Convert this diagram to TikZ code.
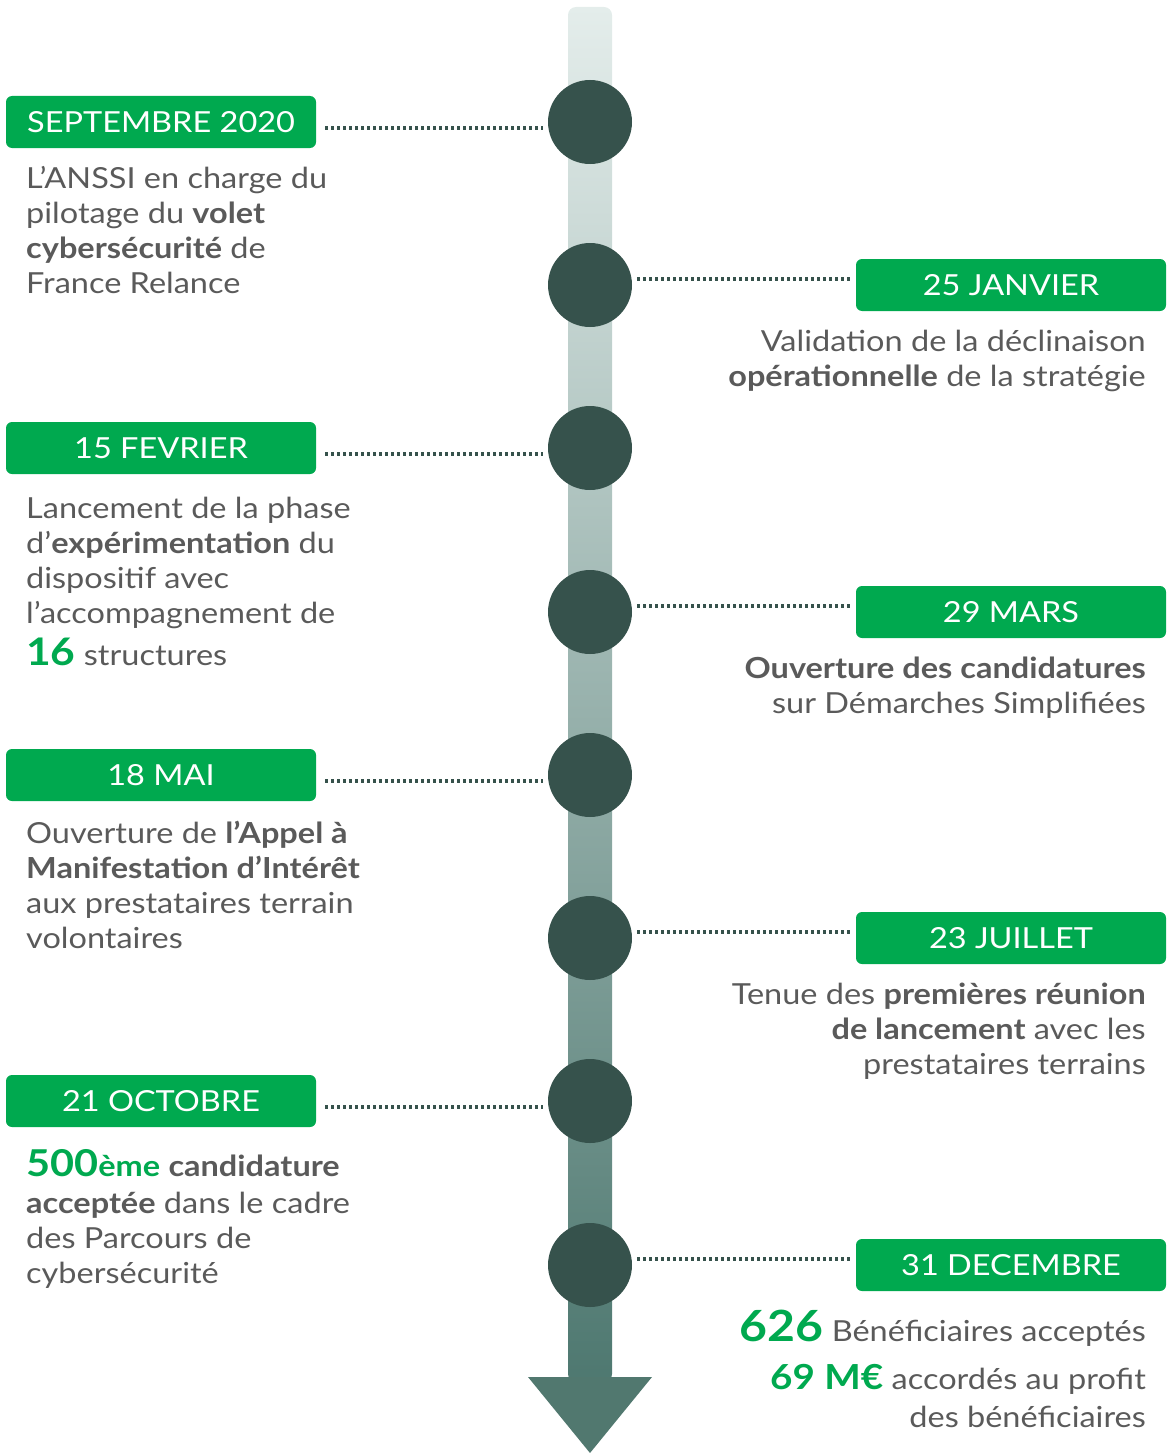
\documentclass[tikz,border=0pt]{standalone}
\usepackage{fontspec}
\setmainfont[FakeStretch=1.12]{Lato}
\definecolor{mgreen}{RGB}{0,169,79}
\definecolor{dotc}{RGB}{54,82,76}
\definecolor{txtc}{RGB}{90,90,90}
\definecolor{bartop}{RGB}{228,237,235}
\definecolor{barbot}{RGB}{78,120,112}
\definecolor{arrowc}{RGB}{81,120,111}
\begin{document}
\begin{tikzpicture}[x=1pt,y=-1pt,
  dot/.style={circle,fill=dotc,minimum size=84pt,inner sep=0pt},
  lab/.style={rounded corners=6pt,fill=mgreen,text=white,minimum width=310pt,minimum height=52pt,inner sep=0pt,font=\fontsize{29}{29}\selectfont},
  dots/.style={draw=dotc,line width=3.2pt,dash pattern=on 3pt off 3pt},
  ltxt/.style={anchor=base west,align=left,text=txtc,inner sep=0pt,font=\fontsize{29}{35}\selectfont},
  rtxt/.style={anchor=base east,align=right,text=txtc,inner sep=0pt,font=\fontsize{29}{35}\selectfont}]
\useasboundingbox (0,0) rectangle (1169,1453);
% timeline bar
\shade[top color=bartop,bottom color=barbot,rounded corners=8pt] (568,7) rectangle (612,1382);
\fill[arrowc] (528,1377) -- (652,1377) -- (590,1453) -- cycle;
% dots
\foreach \i/\y in {1/122,2/285,3/448,4/612,5/775,6/938,7/1101,8/1265}
  \node[dot] (c\i) at (590,\y) {};
% left labels
\node[lab] (l1) at (161,122) {SEPTEMBRE 2020};
\node[lab] (l3) at (161,448) {15 FEVRIER};
\node[lab] (l5) at (161,775) {18 MAI};
\node[lab] (l7) at (161,1101) {21 OCTOBRE};
% right labels
\node[lab] (l2) at (1011,285) {25 JANVIER};
\node[lab] (l4) at (1011,612) {29 MARS};
\node[lab] (l6) at (1011,938) {23 JUILLET};
\node[lab] (l8) at (1011,1265) {31 DECEMBRE};
% connectors
\foreach \i in {1,3,5,7}
  \draw[dots] ([xshift=9pt,yshift=-6pt]l\i.east) -- ([xshift=-5pt,yshift=-6pt]c\i.west);
\foreach \i in {2,4,6,8}
  \draw[dots] ([xshift=5pt,yshift=6pt]c\i.east) -- ([xshift=-3pt,yshift=6pt]l\i.west);
% texts left (anchor = baseline of last line)
\node[ltxt] (t1) at (26,293) {L’ANSSI en charge du\\pilotage du \textbf{volet}\\\textbf{cybersécurité} de\\France Relance};
\node[ltxt] (t3) at (26,665) {Lancement de la phase\\d’\textbf{expérimentation} du\\dispositif avec\\l’accompagnement de\\[7pt]{\color{mgreen}\bfseries\fontsize{38}{38}\selectfont 16} structures};
\node[ltxt] (t5) at (26,948) {Ouverture de \textbf{l’Appel à}\\\textbf{Manifestation d’Intérêt}\\aux prestataires terrain\\volontaires};
\node[ltxt] (t7) at (26,1283) {{\color{mgreen}\bfseries{\fontsize{37}{37}\selectfont 500}ème} \textbf{candidature}\\[2pt]\textbf{acceptée} dans le cadre\\des Parcours de\\cybersécurité};
% texts right
\node[rtxt] (t2) at (1146,386) {Validation de la déclinaison\\\textbf{opérationnelle} de la stratégie};
\node[rtxt] (t4) at (1146,713) {\textbf{Ouverture des candidatures}\\sur Démarches Simplifiées};
\node[rtxt] (t6) at (1146,1074) {Tenue des \textbf{premières réunion}\\\textbf{de lancement} avec les\\prestataires terrains};
\node[rtxt] (t8) at (1146,1427) {{\color{mgreen}\bfseries\fontsize{43}{43}\selectfont 626} Bénéficiaires acceptés\\[13pt]{\color{mgreen}\bfseries\fontsize{34.5}{34.5}\selectfont 69 M€} accordés au profit\\[3pt]des bénéficiaires};
\end{tikzpicture}
\end{document}
